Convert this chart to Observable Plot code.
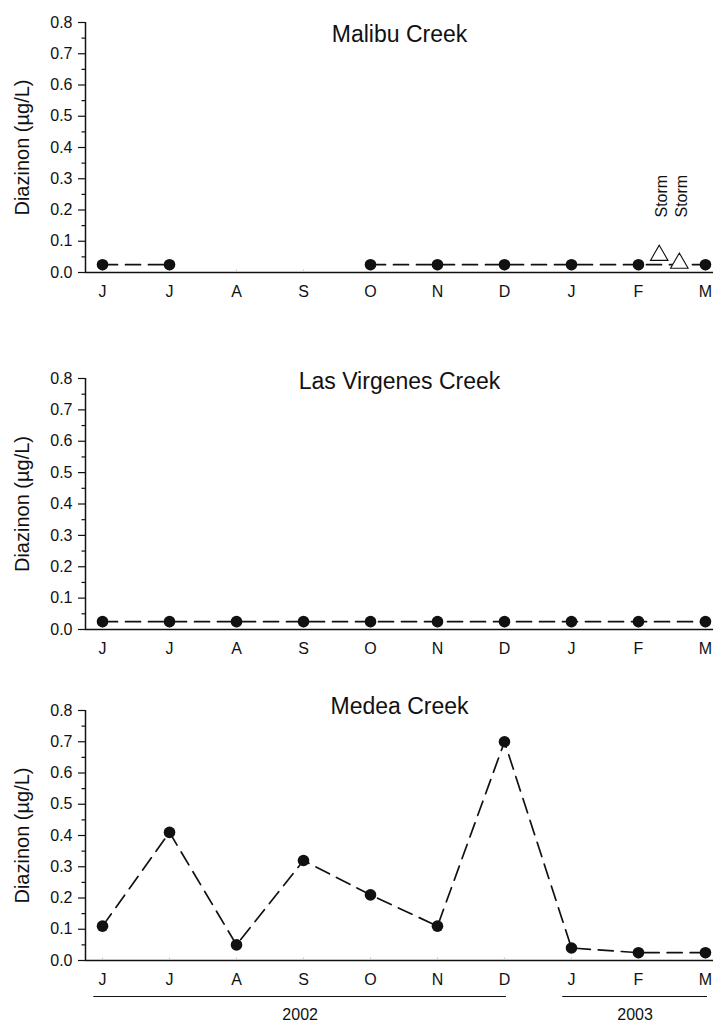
<!DOCTYPE html>
<html>
<head>
<meta charset="utf-8">
<script src="https://cdn.jsdelivr.net/npm/d3@7"></script>
<script src="https://cdn.jsdelivr.net/npm/@observablehq/plot@0.6"></script>
<style>
  html, body { margin: 0; padding: 0; background: #fff; }
  #chart { width: 713px; height: 1022px; }
  #chart svg { display: block; }
</style>
</head>
<body>
<div id="chart"></div>
<script>
// ---- data ----
const months = ["J", "J", "A", "S", "O", "N", "D", "J", "F", "M"];
const malibu = [0.025, 0.025, null, null, 0.025, 0.025, 0.025, 0.025, 0.025, 0.025];
const lasVirgenes = [0.025, 0.025, 0.025, 0.025, 0.025, 0.025, 0.025, 0.025, 0.025, 0.025];
const medea = [0.11, 0.41, 0.05, 0.32, 0.21, 0.11, 0.70, 0.04, 0.025, 0.025];
// storm samples (Malibu Creek), position in month units
const stormMonth = [8.31, 8.61];
const stormValues = [0.055, 0.03];
const stormLabels = ["Storm", "Storm"];
const years = ["2002", "2003"];
const yearFirstMonth = [0, 7];
const yearLastMonth = [6, 9];
const yTicks = [0, 0.1, 0.2, 0.3, 0.4, 0.5, 0.6, 0.7, 0.8];
const yMinor = [0.05, 0.15, 0.25, 0.35, 0.45, 0.55, 0.65, 0.75];

const FONT = "'Liberation Sans', Arial, Helvetica, sans-serif";
const idx = months.map((_, i) => i);

function panel({title, values, height, marginTop, marginBottom, titleDy, storms = false, yearsAxis = false}) {
  const pts = idx.map(i => ({x: i, y: values[i]}));
  const marks = [
    // frame lines
    Plot.ruleY([0], {stroke: "#111", strokeWidth: 1.5}),
    Plot.ruleX([-0.254], {y1: 0, y2: 0.8, stroke: "#111", strokeWidth: 1.5}),
    // y axis
    Plot.axisY(yTicks, {tickSize: 7, tickPadding: 6, tickFormat: d3.format(".1f"), fontSize: 16, label: null, strokeWidth: 1.2}),
    Plot.axisY(yMinor, {tickSize: 3.5, tickFormat: () => "", label: null, strokeWidth: 1.2}),
    // x axis
    Plot.axisX(idx, {tickSize: 0, tickPadding: 13, tickFormat: i => months[i], fontSize: 16, label: null}),
    Plot.ruleX(idx, {y1: 0, y2: 0.008, stroke: "#c8c8c8"}),
    // y label
    Plot.text(["Diazinon (µg/L)"], {frameAnchor: "left", dx: -63, rotate: -90, fontSize: 20, textAnchor: "middle", lineAnchor: "middle"}),
    // title
    Plot.text([title], {frameAnchor: "top", dy: titleDy, fontSize: 23, lineAnchor: "top"}),
    // series
    Plot.line(pts, {x: "x", y: "y", stroke: "#111", strokeWidth: 1.7, strokeDasharray: "15,8"}),
    Plot.dot(pts.filter(d => d.y != null), {x: "x", y: "y", r: 5.8, fill: "#111", stroke: "none"})
  ];
  if (storms) {
    const s = stormMonth.map((m, i) => ({x: m, y: stormValues[i], label: stormLabels[i]}));
    marks.push(
      Plot.dot(s, {x: "x", y: "y", symbol: "triangle", r: 6.5, fill: "white", stroke: "#111", strokeWidth: 1.1}),
      Plot.text(s, {x: "x", y: () => 0.176, text: "label", rotate: -90, textAnchor: "start", lineAnchor: "middle", dx: 3, fontSize: 16})
    );
  }
  if (yearsAxis) {
    const yd = years.map((y, i) => ({year: y, a: yearFirstMonth[i] - 0.13, b: yearLastMonth[i] + 0.03}));
    marks.push(
      Plot.ruleY(yd, {y: () => 0, x1: "a", x2: "b", dy: 36, stroke: "#111", strokeWidth: 1}),
      Plot.text(yd, {x: d => (d.a + d.b) / 2, y: () => 0, text: "year", dy: 54, fontSize: 16, lineAnchor: "middle"})
    );
  }
  return Plot.plot({
    width: 713,
    height,
    marginLeft: 85,
    marginRight: 0,
    marginTop,
    marginBottom,
    style: {fontFamily: FONT, fontSize: "16px", color: "#111", background: "white", overflow: "visible"},
    x: {domain: [-0.254, 9.12], axis: null},
    y: {domain: [0, 0.8], axis: null},
    marks
  });
}

const chart = document.getElementById("chart");
chart.append(panel({title: "Malibu Creek", values: malibu, height: 310, marginTop: 22, marginBottom: 38, titleDy: 3, storms: true}));
chart.append(panel({title: "Las Virgenes Creek", values: lasVirgenes, height: 350, marginTop: 68, marginBottom: 31, titleDy: -6}));
chart.append(panel({title: "Medea Creek", values: medea, height: 362, marginTop: 50, marginBottom: 62, titleDy: -13, yearsAxis: true}));
</script>
</body>
</html>
